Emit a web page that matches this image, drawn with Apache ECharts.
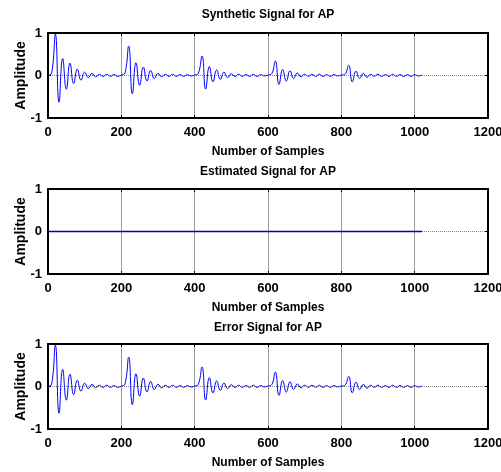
<!DOCTYPE html>
<html>
<head>
<meta charset="utf-8">
<script src="https://cdn.jsdelivr.net/npm/echarts@6/dist/echarts.min.js"></script>
<style>
  html, body { margin: 0; padding: 0; background: #fff; }
  #Chart { width: 501px; height: 472px; }
</style>
</head>
<body>
<div id="Chart"></div>
<script>
// sample step between read points (samples)
var step = 10;

// synthetic signal, read every 10 samples, one array per burst
var burst1 = [0, 0.06, 0.97, -0.63, 0.40, -0.32, 0.29, -0.19, 0.15, -0.11, 0.08, -0.05, 0.05, -0.03, 0.03, -0.02, 0.03, -0.02, 0.02, -0.02];
var burst2 = [0.01, 0.06, 0.69, -0.43, 0.30, -0.23, 0.20, -0.13, 0.12, -0.07, 0.05, -0.03, 0.03, -0.02, 0.03, -0.02, 0.02, -0.02, 0.02, -0.01];
var burst3 = [0.01, 0.05, 0.46, -0.32, 0.21, -0.15, 0.13, -0.09, 0.08, -0.05, 0.04, -0.02, 0.03, -0.02, 0.02, -0.02, 0.03, -0.02, 0.02, -0.01];
var burst4 = [0.01, 0.04, 0.34, -0.21, 0.14, -0.13, 0.11, -0.07, 0.06, -0.03, 0.03, -0.02, 0.03, -0.02, 0.03, -0.02, 0.02, -0.02, 0.02, -0.01];
var burst5 = [0.01, 0.03, 0.24, -0.15, 0.10, -0.07, 0.05, -0.04, 0.03, -0.02, 0.03, -0.02, 0.02, -0.02, 0.03, -0.02, 0.02, -0.02, 0.02, -0.02];
var tail = [0.02, -0.01, 0.01];

// estimated signal (flat zero)
var estSamples = [0, 1020];
var estValues = [0, 0];

var xTicks = ['0', '200', '400', '600', '800', '1000', '1200'];
var yTicks = ['-1', '0', '1'];
var titles = ['Synthetic Signal for AP', 'Estimated Signal for AP', 'Error Signal for AP'];

var synthetic = burst1.concat(burst2, burst3, burst4, burst5, tail);
var synthData = synthetic.map(function (v, i) { return [i * step, v]; });
var estData = estSamples.map(function (s, i) { return [s, estValues[i]]; });
// error = synthetic - estimated (estimated is zero)
var errData = synthData;

var font = 'Liberation Sans, Arial, sans-serif';
var tops = [33, 189, 344];
var plotH = 85;
var titleY = [9, 166, 322];

var grids = [], xAxes = [], yAxes = [], series = [], titleOpts = [];
var datas = [synthData, estData, errData];

for (var g = 0; g < 3; g++) {
    grids.push({ left: 48, right: 13, top: tops[g], height: plotH, containLabel: false, outerBoundsMode: 'none' });
    titleOpts.push({
        text: titles[g], left: 268, top: titleY[g], textAlign: 'center', padding: 0,
        textStyle: { fontFamily: font, fontSize: 12, fontWeight: 'bold', color: '#000' }
    });
    // bottom x axis
    xAxes.push({
        type: 'value', gridIndex: g, min: 0, max: 1200, interval: 200, position: 'bottom',
        name: 'Number of Samples', nameLocation: 'middle', nameGap: 28,
        nameTextStyle: { fontFamily: font, fontSize: 12, fontWeight: 'bold', color: '#000' },
        axisLine: { show: true, onZero: false, lineStyle: { color: '#000', width: 2 } },
        axisTick: { show: true, inside: true, length: 3, lineStyle: { color: '#000' } },
        axisLabel: { fontFamily: font, fontSize: 13, fontWeight: 'bold', color: '#000', margin: 8,
            formatter: function (v) { return xTicks[v / 200]; } },
        splitLine: { show: true, lineStyle: { color: '#999', width: 1 } }
    });
    // top x axis (box + mirrored ticks)
    xAxes.push({
        type: 'value', gridIndex: g, min: 0, max: 1200, interval: 200, position: 'top',
        axisLine: { show: true, onZero: false, lineStyle: { color: '#000', width: 2 } },
        axisTick: { show: true, inside: true, length: 3, lineStyle: { color: '#000' } },
        axisLabel: { show: false }, splitLine: { show: false }
    });
    yAxes.push({
        type: 'value', gridIndex: g, min: -1, max: 1, interval: 1, position: 'left',
        name: 'Amplitude', nameLocation: 'middle', nameGap: 20, nameRotate: 90,
        nameMoveOverlap: false,
        nameTextStyle: { fontFamily: font, fontSize: 14, fontWeight: 'bold', color: '#000' },
        axisLine: { show: true, onZero: false, lineStyle: { color: '#000', width: 2 } },
        axisTick: { show: true, inside: true, length: 3, lineStyle: { color: '#000' } },
        axisLabel: { fontFamily: font, fontSize: 13, fontWeight: 'bold', color: '#000', margin: 6,
            formatter: function (v) { return yTicks[v + 1]; } },
        splitLine: { show: true, lineStyle: { color: '#888', width: 1, type: 'dotted' } }
    });
    yAxes.push({
        type: 'value', gridIndex: g, min: -1, max: 1, interval: 1, position: 'right',
        axisLine: { show: true, onZero: false, lineStyle: { color: '#000', width: 2 } },
        axisTick: { show: true, inside: true, length: 3, lineStyle: { color: '#000' } },
        axisLabel: { show: false }, splitLine: { show: false }
    });
    series.push({
        type: 'line', xAxisIndex: g * 2, yAxisIndex: g * 2, data: datas[g],
        smooth: true, showSymbol: false, animation: false,
        lineStyle: { color: g === 1 ? '#0000c0' : '#0000ff', width: g === 1 ? 1.5 : 1 }
    });
}

var Chart = echarts.init(document.getElementById('Chart'));

var ChartOption = {
    backgroundColor: '#fff',
    animation: false,
    title: titleOpts,
    grid: grids,
    xAxis: xAxes,
    yAxis: yAxes,
    series: series
};

Chart.setOption(ChartOption);
window.addEventListener("resize", function () {
    Chart.resize();
});
</script>
</body>
</html>
